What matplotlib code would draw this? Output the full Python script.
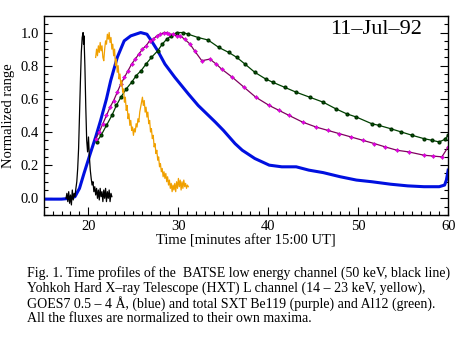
import matplotlib
matplotlib.use('Agg')
import matplotlib.pyplot as plt
from matplotlib.ticker import MultipleLocator

plt.rcParams['font.family'] = ['Liberation Serif', 'DejaVu Serif']

# BATSE 50 keV (black)
batse_t = [17.5, 17.6, 17.7, 17.8, 17.9, 18.0, 18.1, 18.2, 18.3, 18.4, 18.5, 18.6, 18.7, 18.8, 18.9,
           19.0, 19.1, 19.2, 19.3, 19.4, 19.45, 19.5, 19.6, 19.7, 19.8, 19.9, 20.0, 20.1, 20.2, 20.3,
           20.4, 20.5, 20.6, 20.7, 20.8, 20.9, 21.0, 21.1, 21.2, 21.3, 21.4, 21.5, 21.6, 21.7, 21.8,
           21.9, 22.0, 22.1, 22.2, 22.3, 22.4, 22.5, 22.6]
batse_y = [0.00, 0.03, -0.02, 0.04, -0.03, 0.02, -0.04, 0.05, -0.01, 0.03, 0.01, 0.06, 0.10, 0.18, 0.30,
           0.50, 0.70, 0.88, 0.97, 1.00, 0.93, 0.98, 0.80, 0.55, 0.35, 0.28, 0.37, 0.25, 0.17, 0.12,
           0.08, 0.10, 0.04, 0.07, 0.02, 0.06, 0.00, 0.05, -0.01, 0.06, 0.01, 0.04, -0.02, 0.05, 0.00,
           0.06, -0.02, 0.04, 0.00, 0.05, -0.02, 0.03, 0.01]

# HXT L channel (yellow/orange)
hxt_t = [20.8, 20.9, 21.0, 21.1, 21.2, 21.3, 21.4, 21.5, 21.6, 21.7, 21.8, 21.9, 22.0, 22.1, 22.2,
         22.3, 22.4, 22.5, 22.6, 22.7, 22.8, 22.9, 23.0, 23.1, 23.2, 23.3, 23.4, 23.5, 23.6, 23.7,
         23.8, 23.9, 24.0, 24.1, 24.2, 24.3, 24.4, 24.5, 24.6, 24.7, 24.8, 24.9, 25.0, 25.1, 25.2,
         25.3, 25.4, 25.5, 25.6, 25.7, 25.8, 25.9, 26.0, 26.1, 26.2, 26.3, 26.4, 26.5, 26.6, 26.7,
         26.8, 26.9, 27.0, 27.1, 27.2, 27.3, 27.4, 27.5, 27.6, 27.7, 27.8, 27.9, 28.0, 28.1, 28.2,
         28.3, 28.4, 28.5, 28.6, 28.7, 28.8, 28.9, 29.0, 29.1, 29.2, 29.3, 29.4, 29.5, 29.6, 29.7,
         29.8, 29.9, 30.0, 30.1, 30.2, 30.3, 30.4, 30.5, 30.6, 30.7, 30.8, 30.9, 31.0, 31.1]
hxt_y = [0.85, 0.90, 0.86, 0.92, 0.88, 0.94, 0.89, 0.92, 0.85, 0.83, 0.90, 0.95, 0.93, 0.99, 0.96,
         1.00, 0.94, 0.97, 0.90, 0.93, 0.86, 0.90, 0.80, 0.84, 0.76, 0.80, 0.72, 0.75, 0.68, 0.71,
         0.64, 0.66, 0.58, 0.61, 0.53, 0.56, 0.48, 0.51, 0.44, 0.47, 0.41, 0.43, 0.38, 0.42, 0.40,
         0.45, 0.43, 0.48, 0.46, 0.52, 0.55, 0.58, 0.61, 0.56, 0.59, 0.52, 0.55, 0.49, 0.52, 0.45,
         0.47, 0.40, 0.42, 0.36, 0.38, 0.31, 0.33, 0.27, 0.29, 0.23, 0.25, 0.19, 0.21, 0.16, 0.18,
         0.13, 0.16, 0.12, 0.15, 0.10, 0.13, 0.08, 0.11, 0.06, 0.09, 0.04, 0.08, 0.05, 0.09, 0.04,
         0.10, 0.06, 0.12, 0.07, 0.11, 0.05, 0.10, 0.06, 0.11, 0.07, 0.09, 0.06, 0.08, 0.07]

# GOES7 0.5-4 A (blue)
goes_t = [15, 16, 17, 18, 18.5, 19, 19.5, 20.2, 20.8, 21.35, 22.0, 22.47, 23.2, 23.97, 24.7, 25.8,
          26.5, 27.0, 27.7, 28.5, 29.6, 31.1, 32.2, 34.1, 35.0, 36.3, 37.1, 38.5, 40.1, 41.5, 43.1,
          44.5, 46.1, 48.0, 49.8, 51.5, 53.6, 55.5, 57.3, 59.0, 59.6, 59.8, 60.0]
goes_y = [-0.005, -0.005, -0.005, 0.0, 0.01, 0.06, 0.15, 0.27, 0.37, 0.47, 0.60, 0.71, 0.85, 0.95,
          0.98, 1.0, 0.99, 0.95, 0.89, 0.81, 0.73, 0.63, 0.56, 0.46, 0.41, 0.33, 0.29, 0.24, 0.20,
          0.19, 0.19, 0.17, 0.155, 0.13, 0.11, 0.10, 0.085, 0.075, 0.07, 0.07, 0.08, 0.11, 0.17]

# SXT Be119 (purple)
be_t = [20.8, 21.2, 21.6, 22.0, 22.4, 22.8, 23.2, 23.6, 24.0, 24.4, 24.8, 25.2, 25.6, 26.0, 26.4,
        26.8, 27.2, 27.6, 28.0, 28.4, 28.7, 29.0, 29.4, 29.8, 30.2, 30.7, 31.3, 31.8, 32.6, 33.5,
        34.2, 34.8, 36.0, 37.3, 38.6, 40.1, 41.2, 42.3, 43.8, 45.3, 46.6, 47.9, 49.2, 50.5, 51.8,
        53.0, 54.3, 55.6, 57.3, 58.3, 59.3, 60.0]
be_y = [0.36, 0.40, 0.45, 0.50, 0.55, 0.59, 0.64, 0.69, 0.73, 0.77, 0.81, 0.84, 0.87, 0.90, 0.92,
        0.95, 0.96, 0.98, 0.99, 1.0, 1.0, 0.99, 0.99, 0.98, 0.98, 0.96, 0.93, 0.89, 0.83, 0.84,
        0.81, 0.78, 0.73, 0.67, 0.61, 0.56, 0.53, 0.50, 0.46, 0.43, 0.41, 0.39, 0.37, 0.35, 0.33,
        0.31, 0.29, 0.28, 0.26, 0.255, 0.25, 0.31]

# SXT Al12 (green)
al_t = [20.9, 21.4, 22.0, 22.6, 23.1, 23.6, 24.2, 24.8, 25.3, 25.85, 26.4, 27.0, 27.7, 28.2, 28.7,
        29.2, 29.8, 30.5, 31.1, 32.2, 33.3, 34.5, 35.6, 36.5, 37.4, 38.5, 39.7, 40.5, 41.8, 43.1,
        44.6, 46.1, 47.5, 48.7, 49.8, 51.5, 52.3, 53.6, 54.8, 56.0, 57.3, 58.2, 59.0, 59.6, 60.0]
al_y = [0.34, 0.38, 0.44, 0.50, 0.56, 0.61, 0.66, 0.70, 0.74, 0.77, 0.81, 0.85, 0.89, 0.93, 0.96,
        0.98, 1.0, 1.0, 0.99, 0.97, 0.955, 0.91, 0.88, 0.85, 0.81, 0.76, 0.72, 0.70, 0.67, 0.64,
        0.61, 0.58, 0.54, 0.51, 0.49, 0.45, 0.44, 0.42, 0.40, 0.38, 0.36, 0.35, 0.34, 0.355, 0.38]

caption = ["Fig. 1. Time profiles of the  BATSE low energy channel (50 keV, black line)",
           "Yohkoh Hard X\u2013ray Telescope (HXT) L channel (14 \u2013 23 keV, yellow),",
           "GOES7 0.5 \u2013 4 \u00c5, (blue) and total SXT Be119 (purple) and Al12 (green).",
           "All the fluxes are normalized to their own maxima."]

fig = plt.figure(figsize=(4.63, 3.40), dpi=100)
ax = fig.add_axes([0.094, 0.368, 0.874, 0.585])

ax.plot(goes_t, goes_y, color='#0010e0', lw=2.2)
ax.plot(al_t, al_y, color='#004000', lw=0.9, marker='o', ms=2.0, mfc='#006000', mec='#003000')
ax.plot(be_t, be_y, color='#800060', lw=0.9, marker='+', ms=3.2, mec='#900080', mew=0.9)
ax.plot(be_t, be_y, ls='none', marker='o', ms=1.3, color='#e000e0')
ax.plot(hxt_t, hxt_y, color='#f0a000', lw=0.9)
ax.plot(batse_t, batse_y, color='black', lw=0.9)

ax.set_xlim(15, 60)
ax.set_ylim(-0.1, 1.1)
ax.xaxis.set_major_locator(MultipleLocator(10))
ax.xaxis.set_minor_locator(MultipleLocator(1))
ax.yaxis.set_major_locator(MultipleLocator(0.2))
ax.yaxis.set_minor_locator(MultipleLocator(0.05))
ax.yaxis.set_major_formatter(plt.FormatStrFormatter('%.1f'))
ax.tick_params(which='both', direction='in', right=True, top=False, labelsize=10.5, width=0.8)
ax.tick_params(which='major', length=6)
ax.tick_params(which='minor', length=3)
for s in ax.spines.values():
    s.set_linewidth(1.0)

ax.set_xlabel('Time [minutes after 15:00 UT]', fontsize=10.5, labelpad=1)
ax.set_ylabel('Normalized range', fontsize=10.5, labelpad=4)
ax.text(0.936, 0.93, '11\u2013Jul\u201392', transform=ax.transAxes, ha='right', va='center', fontsize=16)

for i, line in enumerate(caption):
    fig.text(27 / 463, 1 - (273 + 15.3 * i) / 340, line, ha='left', va='center', fontsize=10)

fig.savefig('out.png', dpi=100)
